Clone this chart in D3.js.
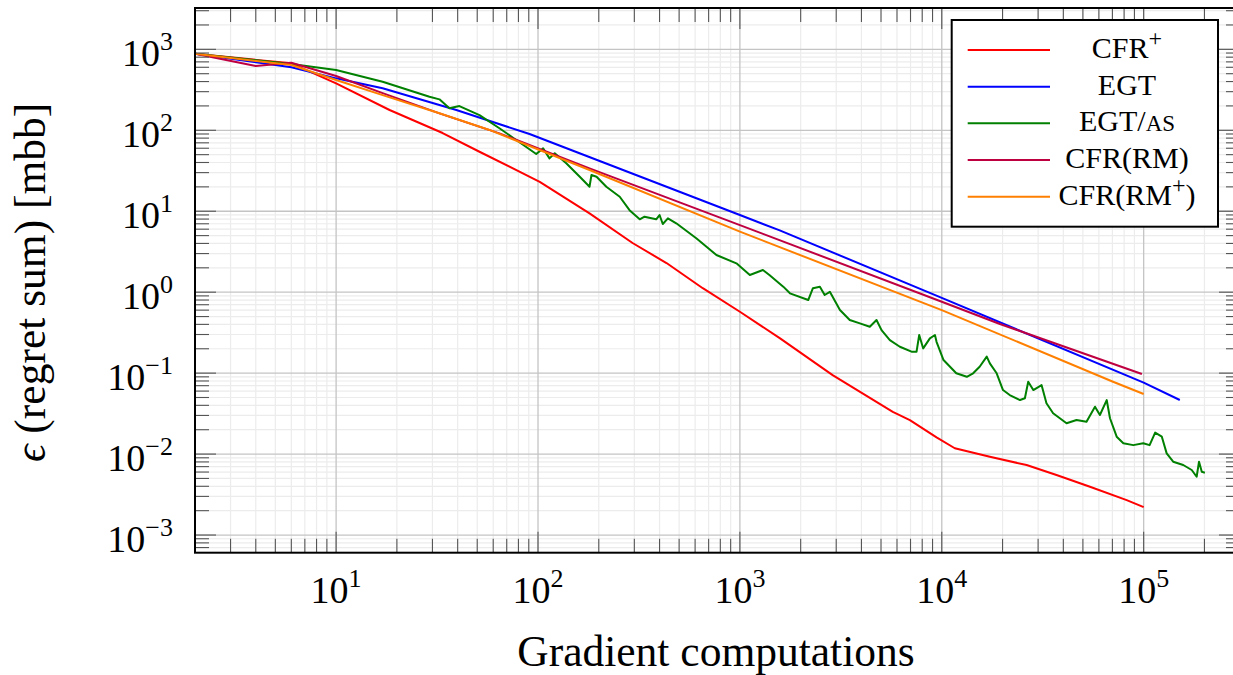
<!DOCTYPE html>
<html lang="en">
<head>
<meta charset="UTF-8">
<title>Regret sum vs gradient computations</title>
<script src="https://cdn.jsdelivr.net/npm/d3@7"></script>
<style>
  body { margin: 0; background: #fff; }
  text { font-family: "Liberation Serif", "Times New Roman", serif; fill: #000; }
</style>
</head>
<body>
<svg id="chart" width="1233" height="675"></svg>
<script type="text/javascript">
// values: [gradient computations, epsilon (mbb)]
var cfrPlus = [[2,880],[6,671],[10,380],[18.4,178],[33.7,92.5],[51.3,54.3],[102,23.1],[180,9.4],
  [294,4.05],[433,2.29],[655,1.12],[1000,0.573],[1575,0.271],[2880,0.0946],[5720,0.0333],
  [6950,0.0263],[9420,0.0161],[11600,0.0118],[17300,0.00927],[26300,0.00732],[37000,0.00551],
  [54200,0.00395],[82400,0.0027],[100000,0.00221]];

var egt = [[2,880],[6,600],[10,438],[17,330],[39.4,178],[90.8,89.9],[1000,8.97],[1575,5.8],
  [10000,0.85],[100000,0.0762],[151000,0.0466]];

var egtAs = [[2,880],[6,658],[10,555],[17,398],[29,259],[32.5,241],[36.4,187],[40.8,199],[51.3,154],
  [64.4,106],[78,75.9],[98,50.9],[106,59.8],[114,45],[121,51.9],[138,39.1],[161,26.7],[180,20.1],
  [184,28],[195,26.7],[218,20.1],[254,15.1],[284,10.3],[319,7.94],[337,8.55],[385,7.94],[400,8.98],
  [415,6.95],[440,8.17],[484,7.09],[608,4.63],[765,2.88],[961,2.27],[1120,1.63],[1300,1.88],
  [1400,1.63],[1640,1.17],[1770,0.968],[2180,0.8],[2300,1.12],[2490,1.17],[2630,0.923],[2790,1.01],
  [3130,0.603],[3500,0.454],[3930,0.412],[4400,0.374],[4750,0.453],[5030,0.34],[5530,0.256],
  [6200,0.212],[7080,0.184],[7500,0.184],[7730,0.296],[8090,0.202],[8730,0.269],[9250,0.296],
  [9420,0.244],[10200,0.145],[11800,0.0995],[13300,0.0902],[14300,0.0995],[15400,0.12],[16700,0.16],
  [17300,0.132],[18700,0.0995],[20100,0.0618],[21700,0.0536],[24400,0.0465],[25800,0.0489],
  [26800,0.0783],[28400,0.0618],[31200,0.0713],[33000,0.0424],[35600,0.0319],[41500,0.024],
  [46500,0.0264],[52100,0.0251],[57400,0.0385],[60700,0.0304],[65600,0.0465],[68100,0.0277],
  [73500,0.0164],[79300,0.0136],[88800,0.0129],[99500,0.0136],[107000,0.0129],[114000,0.0184],
  [123000,0.0164],[130000,0.0102],[140000,0.00805],[157000,0.00733],[173000,0.00636],
  [183000,0.00525],[188000,0.00805],[194000,0.00605],[201000,0.00589]];

var cfrRm = [[2,880],[4,622],[6,682],[10,468],[17,288],[32.5,162],[64.4,91.6],[180,33.9],
  [1000,6.74],[10000,0.762],[19400,0.405],[98000,0.0975]];

var cfrRmPlus = [[2,880],[6,640],[10,418],[17,272],[32.5,162],[57.5,101],[180,32.3],
  [1000,5.59],[10000,0.601],[70500,0.0783],[100000,0.0552]];

var seriesNames = ["CFR+", "EGT", "EGT/AS", "CFR(RM)", "CFR(RM+)"];
var xTickExps = [1, 2, 3, 4, 5];
var yTickExps = [-3, -2, -1, 0, 1, 2, 3];

var series = [cfrPlus, egt, egtAs, cfrRm, cfrRmPlus];
var colors = ["#ff0000", "#0000ff", "#008000", "#bf0040", "#ff8000"];
// label pieces: [text, kind] kind: "" normal, "sup" superscript, "sc" small caps
var legendParts = [
  [["CFR",""],["+","sup"]],
  [["EGT",""]],
  [["EGT/",""],["AS","sc"]],
  [["CFR(RM)",""]],
  [["CFR(RM",""],["+","sup"],[")","down"]]
];

var svg = d3.select("#chart");
var pLeft = 195, pRight = 1240, pTop = 8, pBottom = 552.7;

var x = d3.scaleLog().domain([2, 3e5]).range([pLeft, pRight]);
var y = d3.scaleLog().domain([6.05e-4, 3.24e3]).range([pBottom, pTop]);

// tick values
var xMinor = [], yMinor = [];
d3.range(0, 6).forEach(function(e) {
  d3.range(2, 10).forEach(function(m) {
    var v = m * Math.pow(10, e);
    if (v >= x.domain()[0] && v <= x.domain()[1]) xMinor.push(v);
  });
});
d3.range(-4, 4).forEach(function(e) {
  d3.range(2, 10).forEach(function(m) {
    var v = m * Math.pow(10, e);
    if (v >= y.domain()[0] && v <= y.domain()[1]) yMinor.push(v);
  });
});
var xMajor = xTickExps.map(function(e) { return Math.pow(10, e); });
var yMajor = yTickExps.map(function(e) { return Math.pow(10, e); });

// grid
var grid = svg.append("g");
grid.selectAll("line.xm").data(xMinor).enter().append("line")
  .attr("x1", x).attr("x2", x).attr("y1", pTop).attr("y2", pBottom)
  .attr("stroke", "#ececec").attr("stroke-width", 1.2);
grid.selectAll("line.ym").data(yMinor).enter().append("line")
  .attr("x1", pLeft).attr("x2", pRight).attr("y1", y).attr("y2", y)
  .attr("stroke", "#ececec").attr("stroke-width", 1.2);
grid.selectAll("line.xM").data(xMajor).enter().append("line")
  .attr("x1", x).attr("x2", x).attr("y1", pTop).attr("y2", pBottom)
  .attr("stroke", "#c4c4c4").attr("stroke-width", 1.3);
grid.selectAll("line.yM").data(yMajor).enter().append("line")
  .attr("x1", pLeft).attr("x2", pRight).attr("y1", y).attr("y2", y)
  .attr("stroke", "#c4c4c4").attr("stroke-width", 1.3);

// series
svg.append("clipPath").attr("id", "plotclip").append("rect")
  .attr("x", pLeft).attr("y", pTop).attr("width", pRight - pLeft).attr("height", pBottom - pTop);

var line = d3.line().x(function(d) { return x(d[0]); }).y(function(d) { return y(d[1]); });
svg.append("g").attr("clip-path", "url(#plotclip)")
  .selectAll("path").data(series).enter().append("path")
  .attr("d", line)
  .attr("fill", "none")
  .attr("stroke", function(d, i) { return colors[i]; })
  .attr("stroke-width", 2)
  .attr("stroke-linejoin", "round");

// ticks on all four sides, pointing inward
var ticks = svg.append("g").attr("stroke", "#555").attr("stroke-width", 1.1);
function xTicks(vals, len) {
  vals.forEach(function(v) {
    ticks.append("line").attr("x1", x(v)).attr("x2", x(v)).attr("y1", pBottom).attr("y2", pBottom - len);
    ticks.append("line").attr("x1", x(v)).attr("x2", x(v)).attr("y1", pTop).attr("y2", pTop + len);
  });
}
function yTicks(vals, len) {
  vals.forEach(function(v) {
    ticks.append("line").attr("y1", y(v)).attr("y2", y(v)).attr("x1", pLeft).attr("x2", pLeft + len);
    ticks.append("line").attr("y1", y(v)).attr("y2", y(v)).attr("x1", pRight).attr("x2", pRight - len);
  });
}
xTicks(xMinor, 14); xTicks(xMajor, 21);
yTicks(yMinor, 14); yTicks(yMajor, 21);

// frame
svg.append("rect").attr("x", pLeft).attr("y", pTop).attr("width", pRight - pLeft).attr("height", pBottom - pTop)
  .attr("fill", "none").attr("stroke", "#000").attr("stroke-width", 2);

// tick labels
function powLabel(sel, e) {
  sel.append("tspan").text("10");
  sel.append("tspan").attr("dy", -16).attr("font-size", 26).text(String(e).replace("-", "\u2212"));
}
xTickExps.forEach(function(e) {
  var t = svg.append("text").attr("x", x(Math.pow(10, e))).attr("y", pBottom + 50)
    .attr("text-anchor", "middle").attr("font-size", 38);
  powLabel(t, e);
});
yTickExps.forEach(function(e) {
  var t = svg.append("text").attr("x", pLeft - 22).attr("y", y(Math.pow(10, e)) + 17)
    .attr("text-anchor", "end").attr("font-size", 38);
  powLabel(t, e);
});

// axis titles
svg.append("text").attr("x", 716).attr("y", 666)
  .attr("text-anchor", "middle").attr("font-size", 43.5).text("Gradient computations");
var yt = svg.append("text").attr("transform", "translate(45," + ((pTop + pBottom) / 2 + 2) + ") rotate(-90)")
  .attr("text-anchor", "middle").attr("font-size", 43.5);
yt.append("tspan").attr("font-style", "italic").text("\u03f5");
yt.append("tspan").text(" (regret sum) [mbb]");

// legend
var lg = svg.append("g");
lg.append("rect").attr("x", 951.7).attr("y", 20).attr("width", 266.3).attr("height", 206.7)
  .attr("fill", "#fff").attr("stroke", "#000").attr("stroke-width", 2);
var rowY = d3.scalePoint().domain(seriesNames).range([50, 196.7]);
seriesNames.forEach(function(name, i) {
  var ry = rowY(name);
  lg.append("line").attr("x1", 967.7).attr("x2", 1050).attr("y1", ry).attr("y2", ry)
    .attr("stroke", colors[i]).attr("stroke-width", 2);
  var t = lg.append("text").attr("x", 1127).attr("y", ry + 8)
    .attr("text-anchor", "middle").attr("font-size", 30);
  legendParts[i].forEach(function(p) {
    var s = t.append("tspan").text(p[0]);
    if (p[1] === "sup") s.attr("font-size", 24).attr("dy", -12);
    else if (p[1] === "sc") s.attr("font-size", 23);
    else if (p[1] === "down") s.attr("dy", 12);
  });
});
</script>
</body>
</html>
